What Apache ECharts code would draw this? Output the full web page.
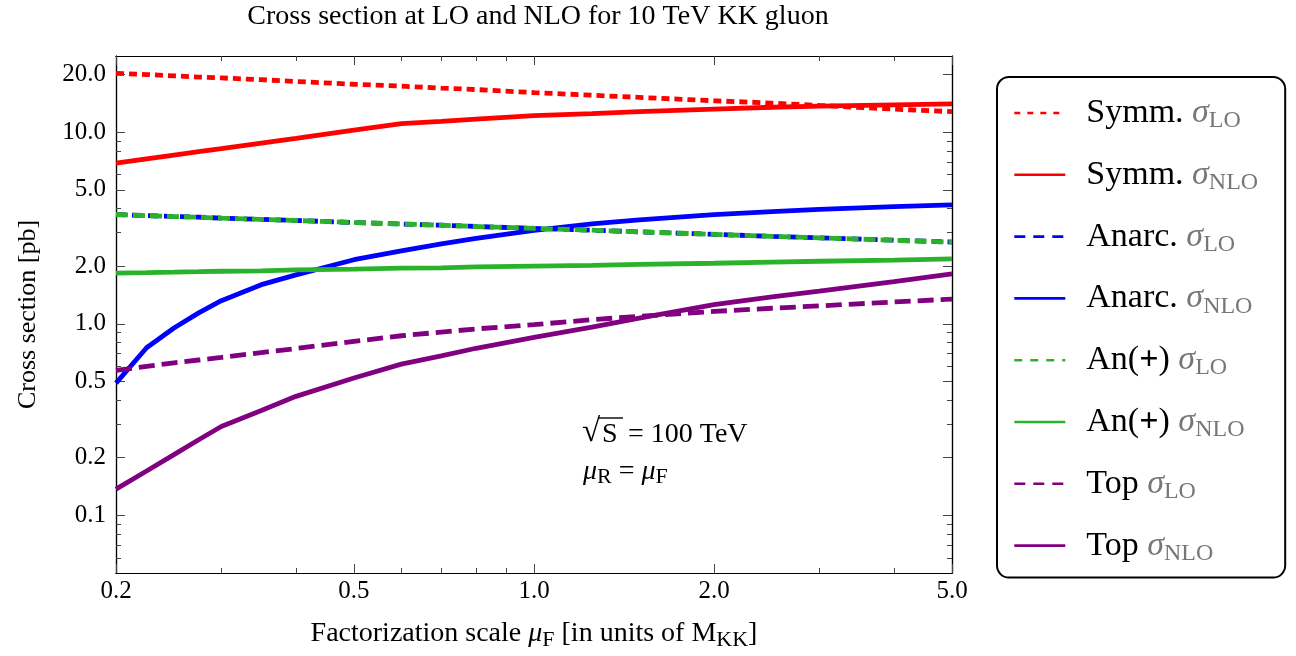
<!DOCTYPE html>
<html><head><meta charset="utf-8">
<script src="https://cdn.jsdelivr.net/npm/echarts@6/dist/echarts.min.js"></script>
<style>html,body{margin:0;padding:0;background:#fff}#c{width:1296px;height:656px}</style>
</head><body><div id="c"></div>
<script>
// ---- data ----
const muF      = [0.2, 0.225, 0.25, 0.275, 0.3, 0.35, 0.4, 0.5, 0.6, 0.7, 0.8, 1.0, 1.25, 1.5, 2, 2.5, 3, 4, 5];
const symmLO   = [20.3, 20.0, 19.7, 19.4, 19.2, 18.8, 18.4, 17.8, 17.4, 17.0, 16.7, 16.1, 15.6, 15.2, 14.6, 14.2, 13.8, 13.2, 12.8];
const symmNLO  = [6.89, 7.25, 7.59, 7.91, 8.2, 8.78, 9.3, 10.25, 11.1, 11.4, 11.7, 12.2, 12.5, 12.8, 13.2, 13.5, 13.7, 13.9, 14.05];
const anarcLO  = [3.72, 3.67, 3.63, 3.60, 3.56, 3.51, 3.46, 3.38, 3.32, 3.27, 3.22, 3.15, 3.08, 3.02, 2.93, 2.86, 2.81, 2.73, 2.67];
const anarcNLO = [0.49, 0.75, 0.95, 1.14, 1.32, 1.60, 1.80, 2.16, 2.40, 2.61, 2.79, 3.07, 3.32, 3.49, 3.71, 3.85, 3.96, 4.09, 4.18];
const anPlusLO = [3.72, 3.67, 3.63, 3.60, 3.56, 3.51, 3.46, 3.38, 3.32, 3.27, 3.22, 3.15, 3.08, 3.02, 2.93, 2.86, 2.81, 2.73, 2.67];
const anPlusNLO= [1.84, 1.85, 1.86, 1.87, 1.88, 1.89, 1.91, 1.93, 1.95, 1.96, 1.98, 2.00, 2.02, 2.04, 2.07, 2.10, 2.12, 2.15, 2.18];
const topLO    = [0.571, 0.60, 0.625, 0.647, 0.667, 0.707, 0.743, 0.81, 0.866, 0.905, 0.94, 0.99, 1.05, 1.095, 1.16, 1.205, 1.24, 1.30, 1.345];
const topNLO   = [0.137, 0.1705, 0.2075, 0.248, 0.291, 0.353, 0.418, 0.521, 0.616, 0.68, 0.745, 0.85, 0.96, 1.07, 1.26, 1.38, 1.48, 1.66, 1.82];

const xMajor = [0.2, 0.5, 1, 2, 5];
const xMinor = [0.3, 0.4, 0.6, 0.7, 0.8, 0.9, 3, 4];
const yMajor = [0.1, 0.2, 0.5, 1, 2, 5, 10, 20];
const yMinor = [0.06, 0.07, 0.08, 0.09, 0.3, 0.4, 0.6, 0.7, 0.8, 0.9, 3, 4, 6, 7, 8, 9];

const seriesNames = ['Symm.|LO', 'Symm.|NLO', 'Anarc.|LO', 'Anarc.|NLO', 'An(+)|LO', 'An(+)|NLO', 'Top|LO', 'Top|NLO'];
const seriesData  = [symmLO, symmNLO, anarcLO, anarcNLO, anPlusLO, anPlusNLO, topLO, topNLO];

// ---- styling ----
const FONT = "'Liberation Serif', 'DejaVu Serif', serif";
const colors = ['#ff0000', '#ff0000', '#0000ff', '#0000ff', '#2ab32a', '#2ab32a', '#800080', '#800080'];
const dashes = [[8, 5], 'solid', [10, 6], 'solid', [12, 5], 'solid', [16, 7], 'solid'];
const legendDashes = [[6, 7], 'solid', [11, 8], 'solid', [8, 8], 'solid', [11, 8], 'solid'];

const X_MIN = 0.2, X_MAX = 5, Y_MIN = 0.05, Y_MAX = 25;
const gridRect = {left: 116, top: 56, width: 836, height: 517};

function xAxis(gi, pos, ticks, len, labels) {
  return {
    type: 'log', logBase: 10, gridIndex: gi, position: pos, min: X_MIN, max: X_MAX,
    axisLine: {show: true, lineStyle: {color: '#000', width: 1.2}},
    axisTick: {show: true, inside: true, length: len, customValues: ticks, lineStyle: {color: '#444', width: 1}},
    axisLabel: labels ? {show: true, customValues: ticks, margin: 6, color: '#000', fontFamily: FONT, fontSize: 25,
      formatter: v => Number(v).toFixed(1)} : {show: false},
    splitLine: {show: false}, minorTick: {show: false}
  };
}
function yAxis(gi, pos, ticks, len, labels) {
  return {
    type: 'log', logBase: 10, gridIndex: gi, position: pos, min: Y_MIN, max: Y_MAX,
    axisLine: {show: true, lineStyle: {color: '#000', width: 1.2}},
    axisTick: {show: true, inside: true, length: len, customValues: ticks, lineStyle: {color: '#444', width: 1}},
    axisLabel: labels ? {show: true, customValues: ticks, margin: 10, color: '#000', fontFamily: FONT, fontSize: 25,
      formatter: v => Number(v).toFixed(1)} : {show: false},
    splitLine: {show: false}, minorTick: {show: false}
  };
}

const xAxes = [xAxis(0, 'bottom', xMajor, 9, true), xAxis(1, 'bottom', xMinor, 5, false),
               xAxis(2, 'top', xMajor, 9, false), xAxis(3, 'top', xMinor, 5, false)];
const yAxes = [yAxis(0, 'left', yMajor, 9, true), yAxis(1, 'left', yMinor, 5, false),
               yAxis(2, 'right', yMajor, 9, false), yAxis(3, 'right', yMinor, 5, false)];
xAxes[0].name = '{n|Factorization scale }{i|μ}{s|F}{n| [in units of M}{s|KK}{n|]}';
xAxes[0].nameLocation = 'middle';
xAxes[0].nameGap = 45;
xAxes[0].nameTextStyle = {fontFamily: FONT, color: '#000', rich: {
  n: {fontFamily: FONT, fontSize: 28, color: '#000', lineHeight: 32},
  i: {fontFamily: FONT, fontSize: 28, fontStyle: 'italic', color: '#000', lineHeight: 32},
  s: {fontFamily: FONT, fontSize: 22, color: '#000', lineHeight: 22, padding: [12, 0, 0, 0]}
}};
yAxes[0].name = 'Cross section [pb]';
yAxes[0].nameLocation = 'middle';
yAxes[0].nameGap = 75;
yAxes[0].nameTextStyle = {fontFamily: FONT, fontSize: 26, color: '#000'};

const series = seriesNames.map((nm, k) => ({
  type: 'line', name: nm, xAxisIndex: 0, yAxisIndex: 0,
  data: muF.map((x, i) => [x, seriesData[k][i]]),
  symbol: 'none', showSymbol: false, smooth: false, animation: false,
  lineStyle: {color: colors[k], width: 4.8, type: dashes[k]},
  itemStyle: {color: colors[k]},
  z: 2 + k
}));

const legendRich = {
  a: {fontFamily: FONT, fontSize: 34, color: '#000', lineHeight: 38, padding: [0, 0, 0, 16]},
  b: {fontFamily: FONT, fontSize: 34, color: '#000', lineHeight: 38, fontWeight: 'bold'},
  c: {fontFamily: FONT, fontSize: 34, color: '#000', lineHeight: 38},
  g: {fontFamily: FONT, fontSize: 34, color: '#777', fontStyle: 'italic', lineHeight: 38},
  s: {fontFamily: FONT, fontSize: 24, color: '#777', lineHeight: 22, padding: [16, 0, 0, 0]}
};

const option = {
  backgroundColor: '#fff',
  animation: false,
  title: {
    text: 'Cross section at LO and NLO for 10 TeV KK gluon',
    left: 533, top: -2, textAlign: 'center',
    textStyle: {fontFamily: FONT, fontSize: 28, fontWeight: 'normal', color: '#000'}
  },
  grid: [0, 1, 2, 3].map(() => Object.assign({show: false, containLabel: false}, gridRect)),
  xAxis: xAxes,
  yAxis: yAxes,
  legend: {
    orient: 'vertical', left: 997, top: 77,
    padding: [16, 27, 12, 16],
    itemGap: 21.8, itemWidth: 51, itemHeight: 14,
    borderColor: '#000', borderWidth: 2, borderRadius: 12,
    selectedMode: false,
    data: seriesNames.map((nm, k) => ({name: nm,
      itemStyle: {opacity: 0},
      lineStyle: {width: 2.6, type: legendDashes[k], color: colors[k]}})),
    textStyle: {fontFamily: FONT, fontSize: 34, rich: legendRich},
    formatter: nm => {
      const [lab, ord] = nm.split('|');
      const labTxt = lab === 'An(+)' ? '{a|An(}{b|+}{c|)}' : '{a|' + lab + '}';
      return labTxt + '{c| }{g|σ}{s|' + ord + '}';
    }
  },
  graphic: [
    {type: 'text', left: 582, top: 416, style: {text: '√', font: "33px 'Liberation Serif'", fill: '#000'}},
    {type: 'line', shape: {x1: 598, y1: 418, x2: 623, y2: 418}, style: {stroke: '#000', lineWidth: 1.4}},
    {type: 'text', left: 602, top: 421, style: {text: 'S', font: "28px 'Liberation Serif'", fill: '#000'}},
    {type: 'text', left: 628, top: 421, style: {text: '= 100 TeV', font: "28px 'Liberation Serif'", fill: '#000'}},
    {type: 'text', left: 583, top: 455, style: {
      text: '{i|μ}{s|R}{n| = }{i|μ}{s|F}',
      rich: {
        i: {fontFamily: FONT, fontSize: 28, fontStyle: 'italic', fill: '#000', color: '#000', lineHeight: 30},
        n: {fontFamily: FONT, fontSize: 28, fill: '#000', color: '#000', lineHeight: 30},
        s: {fontFamily: FONT, fontSize: 22, fill: '#000', color: '#000', lineHeight: 22, padding: [11, 0, 0, 0]}
      }
    }}
  ],
  series: series
};

const chart = echarts.init(document.getElementById('c'), null, {renderer: 'canvas'});
chart.setOption(option);
</script>
</body></html>
